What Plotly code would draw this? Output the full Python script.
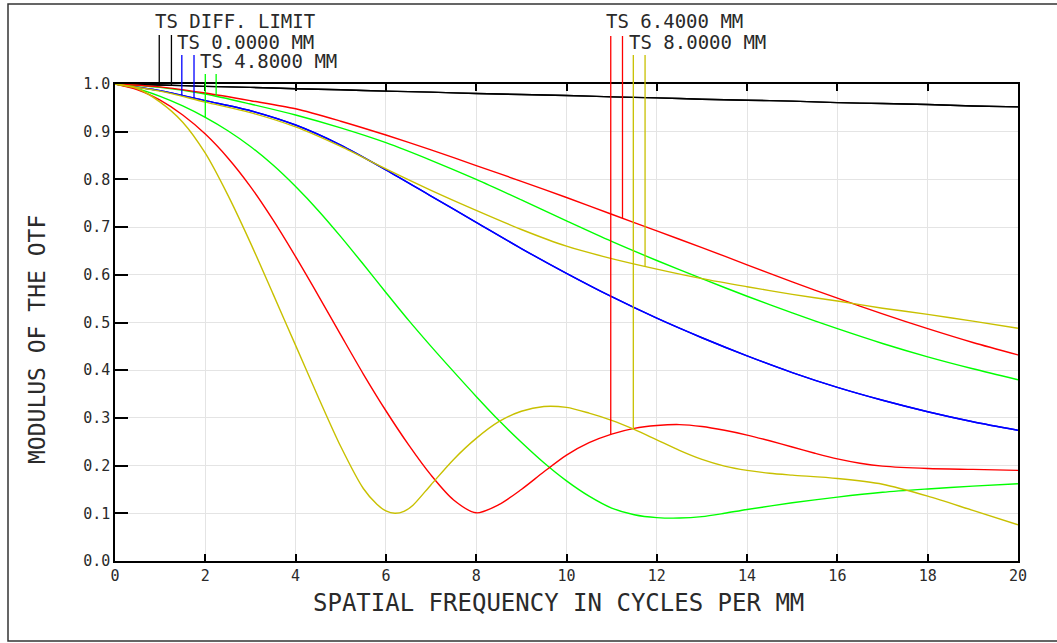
import numpy as np
import plotly.graph_objects as go

# ---------------- data ----------------
freq = [0, 1, 2, 3, 4, 5, 6, 7, 8, 9, 10, 11, 12, 13, 14, 15, 16, 17, 18, 19, 20]

diff_limit = [1.000, 0.998, 0.995, 0.993, 0.990, 0.988, 0.985, 0.983, 0.980, 0.978, 0.976,
              0.973, 0.971, 0.968, 0.966, 0.964, 0.961, 0.959, 0.957, 0.954, 0.952]

field_0_ts = [1.000, 0.986, 0.965, 0.944, 0.914, 0.872, 0.820, 0.765, 0.710, 0.655, 0.603,
              0.554, 0.509, 0.468, 0.430, 0.395, 0.364, 0.337, 0.313, 0.292, 0.274]

field_48_t = [1.000, 0.993, 0.979, 0.958, 0.935, 0.908, 0.877, 0.840, 0.800, 0.757, 0.713,
              0.670, 0.630, 0.592, 0.555, 0.520, 0.487, 0.456, 0.428, 0.403, 0.380]
freq_48_s = [0, 0.5, 1, 1.5, 2, 2.5, 3, 3.5, 4, 4.5, 5, 5.5, 6, 6.5, 7, 7.5, 8, 8.5, 9, 9.5,
             10, 10.5, 11, 11.5, 12, 12.5, 13, 13.5, 14, 15, 16, 17, 18, 19, 20]
field_48_s = [1.000, 0.990, 0.974, 0.954, 0.930, 0.902, 0.869, 0.830, 0.785, 0.735, 0.680,
              0.622, 0.563, 0.505, 0.450, 0.397, 0.345, 0.295, 0.249, 0.206, 0.168, 0.136,
              0.111, 0.097, 0.091, 0.090, 0.093, 0.100, 0.108, 0.122, 0.134, 0.144, 0.151,
              0.157, 0.162]

field_64_t = [1.000, 0.994, 0.981, 0.965, 0.948, 0.922, 0.893, 0.862, 0.829, 0.796, 0.762,
              0.727, 0.692, 0.657, 0.621, 0.585, 0.551, 0.518, 0.487, 0.458, 0.432]
freq_64_s = [0, 0.5, 1, 1.5, 2, 2.5, 3, 3.5, 4, 4.5, 5, 5.5, 6, 6.5, 7, 7.5, 8, 8.5, 9, 9.5,
             10, 10.5, 11, 11.5, 12, 12.5, 13, 13.5, 14, 14.5, 15, 15.5, 16, 16.5, 17, 18,
             19, 20]
field_64_s = [1.000, 0.988, 0.966, 0.935, 0.895, 0.845, 0.785, 0.715, 0.638, 0.557, 0.474,
              0.392, 0.315, 0.244, 0.180, 0.128, 0.101, 0.118, 0.150, 0.187, 0.222, 0.248,
              0.266, 0.278, 0.284, 0.286, 0.282, 0.274, 0.264, 0.252, 0.239, 0.226, 0.214,
              0.205, 0.199, 0.194, 0.192, 0.190]

field_80_t = [1.000, 0.985, 0.962, 0.940, 0.910, 0.869, 0.822, 0.777, 0.735, 0.695, 0.660,
              0.634, 0.612, 0.592, 0.575, 0.559, 0.545, 0.530, 0.517, 0.503, 0.488]
freq_80_s = [0, 0.5, 1, 1.5, 2, 2.5, 3, 3.5, 4, 4.5, 5, 5.5, 5.8, 6.0, 6.2, 6.4, 6.6, 7, 7.5,
             8, 8.5, 9, 9.5, 10, 10.5, 11, 11.5, 12, 12.5, 13, 13.5, 14, 14.5, 15, 16, 17,
             18, 19, 20]
field_80_s = [1.000, 0.990, 0.962, 0.920, 0.855, 0.767, 0.667, 0.560, 0.452, 0.344, 0.240,
              0.152, 0.119, 0.105, 0.100, 0.104, 0.117, 0.160, 0.213, 0.257, 0.292, 0.314,
              0.324, 0.322, 0.310, 0.295, 0.276, 0.254, 0.232, 0.213, 0.199, 0.190, 0.184,
              0.180, 0.173, 0.161, 0.136, 0.106, 0.076]

x_ticks = [0, 2, 4, 6, 8, 10, 12, 14, 16, 18, 20]
y_ticks = [0.0, 0.1, 0.2, 0.3, 0.4, 0.5, 0.6, 0.7, 0.8, 0.9, 1.0]

labels = ["TS DIFF. LIMIT", "TS 0.0000 MM", "TS 4.8000 MM", "TS 6.4000 MM", "TS 8.0000 MM"]
colors = ["#000000", "#0000ff", "#00ff00", "#ff0000", "#c8c000"]
# legend-key frequencies (two keys per field: T and S)
key_freqs = [(0.98, 1.25), (1.48, 1.75), (2.0, 2.24), (10.98, 11.24), (11.48, 11.74)]

series = [
    [(freq, diff_limit), (freq, diff_limit)],
    [(freq, field_0_ts), (freq, field_0_ts)],
    [(freq_48_s, field_48_s), (freq, field_48_t)],
    [(freq_64_s, field_64_s), (freq, field_64_t)],
    [(freq_80_s, field_80_s), (freq, field_80_t)],
]

# ---------------- figure ----------------
W, H = 1057, 643
ML, MR, MT, MB = 115, 39, 84, 82
PW, PH = W - ML - MR, H - MT - MB

def px_x(p):
    return (p - ML) / PW

def px_y(p):
    return (H - MB - p) / PH

FONT = "DejaVu Sans Mono"
TXT = "#2a2a2a"
fig = go.Figure()

for (pair, col, name) in zip(series, colors, labels):
    for k, (xs, ys) in enumerate(pair):
        fig.add_trace(go.Scatter(x=xs, y=ys, mode="lines", name=name,
                                 line=dict(color=col, width=1.4, shape="spline", smoothing=0.8),
                                 showlegend=False, hoverinfo="skip"))

# legend keys and labels (Zemax style)
label_pos = [(154, 21.5), (176, 41.5), (199, 61), (605, 21.5), (628, 41.5)]
key_tops = [35, 55, 74, 36, 55]
shapes = []
annotations = []
for i, (pair, col, name) in enumerate(zip(series, colors, labels)):
    for k, (xs, ys) in enumerate(pair):
        fx = key_freqs[i][k]
        yb = float(np.interp(fx, xs, ys))
        shapes.append(dict(type="line", xref="x", yref="paper", x0=fx, x1=fx,
                           y0=yb, y1=px_y(key_tops[i]),
                           line=dict(color=col, width=1.3), layer="above"))
    lx, ly = label_pos[i]
    annotations.append(dict(text=name, xref="paper", yref="paper", x=px_x(lx), y=px_y(ly),
                            xanchor="left", yanchor="middle", showarrow=False, borderpad=0,
                            font=dict(family=FONT, size=19, color=TXT)))

# axis titles
annotations.append(dict(text="SPATIAL FREQUENCY IN CYCLES PER MM", xref="paper", yref="paper",
                        x=px_x(558), y=px_y(603), xanchor="center", yanchor="middle",
                        showarrow=False, font=dict(family=FONT, size=24, color=TXT)))
annotations.append(dict(text="MODULUS OF THE OTF", xref="paper", yref="paper",
                        x=px_x(37), y=px_y(340), xanchor="center", yanchor="middle",
                        textangle=-90, showarrow=False,
                        font=dict(family=FONT, size=23, color=TXT)))

# outer frame
shapes.append(dict(type="rect", xref="paper", yref="paper",
                   x0=px_x(8), x1=px_x(1062), y0=px_y(641), y1=px_y(4),
                   line=dict(color="#333333", width=1.5), fillcolor="rgba(0,0,0,0)", layer="below"))

fig.update_layout(
    width=W, height=H,
    margin=dict(l=ML, r=MR, t=MT, b=MB, pad=0),
    paper_bgcolor="white", plot_bgcolor="white",
    shapes=shapes, annotations=annotations,
    font=dict(family=FONT, color=TXT),
    xaxis=dict(range=[0, 20], tickvals=x_ticks, ticktext=[str(v) for v in x_ticks],
               showgrid=True, gridcolor="#e4e4e4", gridwidth=1, zeroline=False,
               showline=True, linecolor="#000000", linewidth=1.5, mirror="ticks",
               ticks="inside", ticklen=7, tickwidth=1.5, tickcolor="#000000",
               tickfont=dict(family=FONT, size=15, color=TXT)),
    yaxis=dict(range=[0, 1], tickvals=y_ticks, ticktext=["%.1f" % v for v in y_ticks],
               showgrid=True, gridcolor="#e4e4e4", gridwidth=1, zeroline=False,
               showline=True, linecolor="#000000", linewidth=1.5, mirror=True,
               ticks="inside", ticklen=13, tickwidth=1.5, tickcolor="#000000",
               tickfont=dict(family=FONT, size=15, color=TXT)),
)

fig.write_html("out.html", config={"displayModeBar": False},
               post_script="document.body.style.margin='0';")
